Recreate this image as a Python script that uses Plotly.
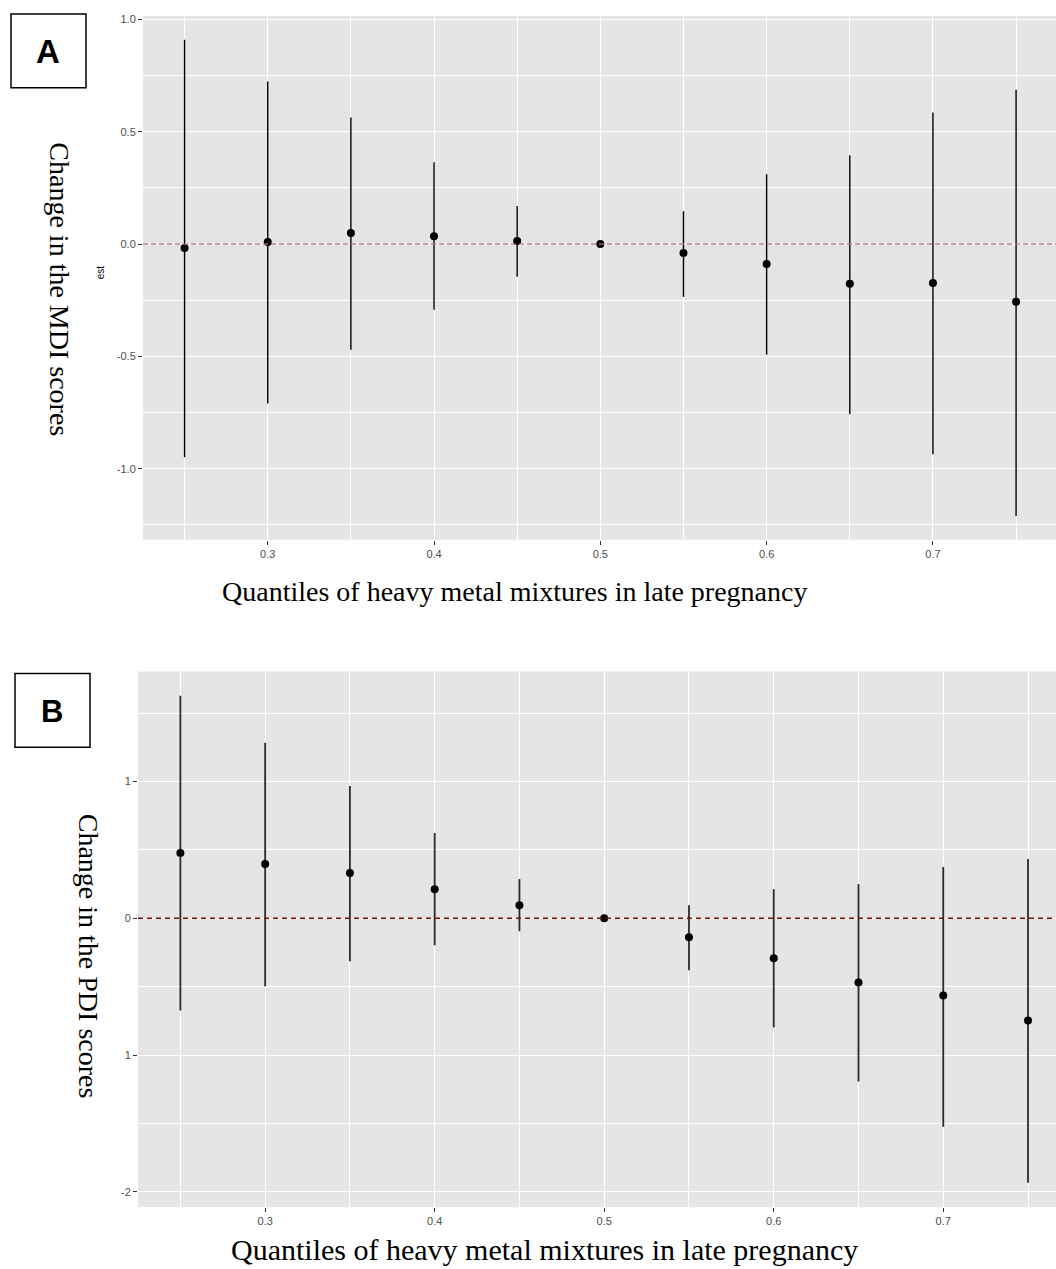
import plotly.graph_objects as go

# ---------------- data ----------------
quantiles = [0.25, 0.30, 0.35, 0.40, 0.45, 0.50, 0.55, 0.60, 0.65, 0.70, 0.75]

mdi_est = [-0.018, 0.009, 0.049, 0.035, 0.013, 0.0, -0.040, -0.089, -0.177, -0.173, -0.257]
mdi_lower = [-0.949, -0.710, -0.470, -0.293, -0.146, 0.0, -0.235, -0.492, -0.758, -0.936, -1.210]
mdi_upper = [0.909, 0.723, 0.563, 0.364, 0.169, 0.0, 0.146, 0.310, 0.395, 0.585, 0.687]

pdi_est = [0.476, 0.396, 0.330, 0.212, 0.095, 0.0, -0.139, -0.293, -0.469, -0.564, -0.747]
pdi_lower = [-0.674, -0.498, -0.315, -0.198, -0.095, 0.0, -0.381, -0.799, -1.194, -1.524, -1.934]
pdi_upper = [1.626, 1.282, 0.967, 0.623, 0.286, 0.0, 0.095, 0.212, 0.249, 0.374, 0.432]

x_tick_vals = [0.3, 0.4, 0.5, 0.6, 0.7]
x_tick_labels = ["0.3", "0.4", "0.5", "0.6", "0.7"]
x_minor_vals = [0.25, 0.35, 0.45, 0.55, 0.65, 0.75]

mdi_tick_vals = [-1.0, -0.5, 0.0, 0.5, 1.0]
mdi_tick_labels = ["-1.0", "-0.5", "0.0", "0.5", "1.0"]
mdi_minor_vals = [-1.25, -0.75, -0.25, 0.25, 0.75]

pdi_tick_vals = [-2, -1, 0, 1]
pdi_tick_labels = ["-2", "1", "0", "1"]
pdi_minor_vals = [-1.5, -0.5, 0.5, 1.5]

x_title = "Quantiles of heavy metal mixtures in late pregnancy"
mdi_title = "Change in the MDI scores"
pdi_title = "Change in the PDI scores"

# body margin is removed by post_script, so the figure fills the page
OFF = 0
W, H = 1056 - OFF, 1269 - OFF


def px(v):
    return (v - OFF) / W


def py(v):
    return 1 - (v - OFF) / H


def expand(lo, hi, f=0.05):
    d = (hi - lo) * f
    return [lo - d, hi + d]


fig = go.Figure()

fig.add_trace(go.Scatter(
    x=quantiles, y=mdi_est, mode="markers", xaxis="x", yaxis="y",
    marker=dict(color="black", size=8),
    error_y=dict(type="data", symmetric=False,
                 array=[u - e for u, e in zip(mdi_upper, mdi_est)],
                 arrayminus=[e - l for e, l in zip(mdi_est, mdi_lower)],
                 width=0, thickness=1.4, color="black"),
    showlegend=False))

fig.add_trace(go.Scatter(
    x=quantiles, y=pdi_est, mode="markers", xaxis="x2", yaxis="y2",
    marker=dict(color="black", size=8),
    error_y=dict(type="data", symmetric=False,
                 array=[u - e for u, e in zip(pdi_upper, pdi_est)],
                 arrayminus=[e - l for e, l in zip(pdi_est, pdi_lower)],
                 width=0, thickness=1.8, color="#2a2a2a"),
    showlegend=False))

tickfont = dict(family="Liberation Sans, Arial", size=11, color="#4D4D4D")
grid_common = dict(showgrid=True, gridcolor="white", gridwidth=1.2, zeroline=False,
                   showline=False, ticks="outside", ticklen=4, tickcolor="#333333",
                   tickwidth=1, tickfont=tickfont)

fig.update_layout(
    width=W, height=H, autosize=False,
    margin=dict(l=0, r=0, t=0, b=0),
    paper_bgcolor="white", plot_bgcolor="#E5E5E5",
    xaxis=dict(domain=[px(143), 1], range=[0.225, 0.774], anchor="y",
               tickvals=x_tick_vals, ticktext=x_tick_labels,
               minor=dict(tickvals=x_minor_vals, showgrid=True, gridcolor="white", gridwidth=0.6),
               **grid_common),
    yaxis=dict(domain=[py(538), py(13)], range=expand(min(mdi_lower), max(mdi_upper)), anchor="x",
               tickvals=mdi_tick_vals, ticktext=mdi_tick_labels,
               minor=dict(tickvals=mdi_minor_vals, showgrid=True, gridcolor="white", gridwidth=0.6),
               **grid_common),
    xaxis2=dict(domain=[px(138), 1], range=[0.225, 0.7665], anchor="y2",
                tickvals=x_tick_vals, ticktext=x_tick_labels,
                minor=dict(tickvals=x_minor_vals, showgrid=True, gridcolor="white", gridwidth=0.6),
                **grid_common),
    yaxis2=dict(domain=[py(1207), py(670)], range=expand(min(pdi_lower), max(pdi_upper)), anchor="x2",
                tickvals=pdi_tick_vals, ticktext=pdi_tick_labels,
                minor=dict(tickvals=pdi_minor_vals, showgrid=True, gridcolor="white", gridwidth=0.6),
                **grid_common),
)

# reference lines at zero
fig.add_shape(type="line", xref="x domain", yref="y", x0=0, x1=1, y0=0, y1=0,
              line=dict(color="#B07878", width=1.2, dash="5px,3px"))
fig.add_shape(type="line", xref="x2 domain", yref="y2", x0=0, x1=1, y0=0, y1=0,
              line=dict(color="#7A0F0F", width=1.4, dash="5px,4px"))

# panel label boxes
fig.add_shape(type="rect", xref="paper", yref="paper",
              x0=px(11), x1=px(86), y0=py(85), y1=py(11),
              line=dict(color="black", width=1.5), fillcolor="white")
fig.add_shape(type="rect", xref="paper", yref="paper",
              x0=px(15), x1=px(90), y0=py(746), y1=py(672),
              line=dict(color="black", width=1.5), fillcolor="white")

serif = "Liberation Serif, Times New Roman, serif"
ann = [
    dict(text="<b>A</b>", x=px(48), y=py(49), font=dict(family="Liberation Sans, Arial", size=33, color="black")),
    dict(text="<b>B</b>", x=px(52), y=py(710), font=dict(family="Liberation Sans, Arial", size=31, color="black")),
    dict(text="est", x=px(100), y=py(270), textangle=-90,
         font=dict(family="Liberation Sans, Arial", size=10, color="black")),
    dict(text=mdi_title, x=px(60), y=py(287), textangle=90, font=dict(family=serif, size=28, color="black")),
    dict(text=pdi_title, x=px(88), y=py(955), textangle=90, font=dict(family=serif, size=28, color="black")),
    dict(text=x_title, x=px(514), y=py(590), font=dict(family=serif, size=28, color="black")),
    dict(text=x_title, x=px(544), y=py(1249), font=dict(family=serif, size=30, color="black")),
]
for a in ann:
    fig.add_annotation(xref="paper", yref="paper", showarrow=False,
                       xanchor="center", yanchor="middle", **a)

fig.write_html(
    "out.html",
    config={"displayModeBar": False},
    post_script="document.body.style.margin='0';document.body.style.overflow='hidden';",
)
